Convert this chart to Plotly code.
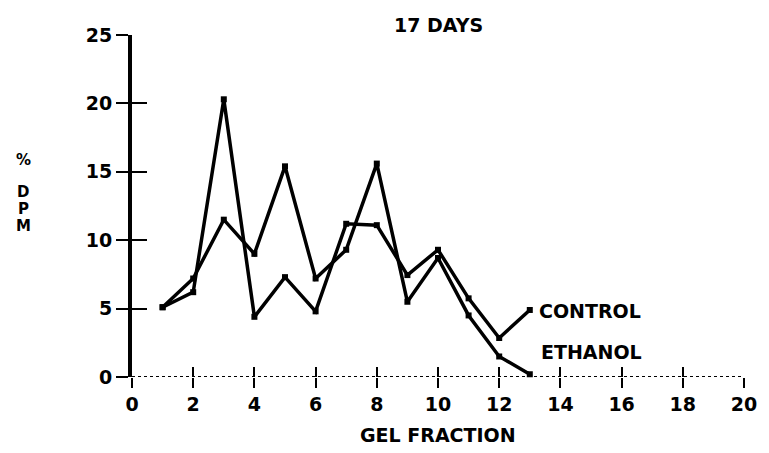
import plotly.graph_objects as go

# Gel fraction number and % DPM for each series (17 days)
fractions = [1, 2, 3, 4, 5, 6, 7, 8, 9, 10, 11, 12, 13]
control = [5.1, 6.2, 20.3, 4.4, 7.3, 4.8, 11.2, 11.1, 7.45, 9.3, 5.75, 2.85, 4.9]
ethanol = [5.1, 7.2, 11.5, 9.0, 15.4, 7.2, 9.3, 15.6, 5.5, 8.7, 4.5, 1.5, 0.2]

x_ticks = list(range(0, 21, 2))
y_ticks = [0, 5, 10, 15, 20, 25]

FONT = dict(family="DejaVu Sans", size=19, color="black", weight="bold")

fig = go.Figure()

for name, vals in (("CONTROL", control), ("ETHANOL", ethanol)):
    fig.add_trace(go.Scatter(
        x=fractions, y=vals, name=name, mode="lines+markers",
        line=dict(color="black", width=3.5),
        marker=dict(symbol="square", size=6, color="black"),
        cliponaxis=False, showlegend=False,
    ))

# invisible copy on the overlay axes so the inward tick marks get drawn
fig.add_trace(go.Scatter(
    x=fractions, y=control, xaxis="x2", yaxis="y2", mode="markers",
    marker=dict(size=1, opacity=0), hoverinfo="skip", showlegend=False,
))

# dotted baseline along y = 0
fig.add_shape(type="line", xref="x", yref="y", x0=0, x1=20, y0=0, y1=0,
              line=dict(color="black", width=2, dash="dot"))

axis_common = dict(showgrid=False, zeroline=False)

fig.update_layout(
    width=769, height=453,
    margin=dict(l=132, r=14, t=35, b=76),
    paper_bgcolor="white", plot_bgcolor="white",
    font=FONT,
    xaxis=dict(range=[0, 20], tickvals=x_ticks, ticktext=[str(v) for v in x_ticks],
               ticks="outside", ticklen=10, tickwidth=2, tickcolor="black",
               showline=False, tickfont=FONT, **axis_common),
    xaxis2=dict(range=[0, 20], overlaying="x", anchor="y", side="bottom",
                tickvals=x_ticks[1:], ticks="inside", ticklen=10, tickwidth=2,
                tickcolor="black", showticklabels=False, showline=False,
                **axis_common),
    yaxis=dict(range=[0, 25], tickvals=y_ticks, ticktext=[str(v) for v in y_ticks],
               ticks="outside", ticklen=12, tickwidth=2, tickcolor="black",
               showline=True, linewidth=4, linecolor="black", tickfont=FONT,
               **axis_common),
    yaxis2=dict(range=[0, 25], overlaying="y", anchor="x", side="left",
                tickvals=y_ticks, ticks="inside", ticklen=15, tickwidth=2,
                tickcolor="black", showticklabels=False, showline=False,
                **axis_common),
)

annotations = [
    dict(text="17 DAYS", xref="paper", yref="paper", x=0.5, y=1.03,
         xanchor="center", yanchor="middle", showarrow=False, font=FONT),
    dict(text="GEL FRACTION", xref="paper", yref="paper", x=0.5, y=-0.17,
         xanchor="center", yanchor="middle", showarrow=False, font=FONT),
    dict(text="CONTROL", xref="x", yref="y", x=13.22, y=4.85,
         xanchor="left", yanchor="middle", showarrow=False, font=FONT),
    dict(text="ETHANOL", xref="x", yref="y", x=13.3, y=1.8,
         xanchor="left", yanchor="middle", showarrow=False, font=FONT),
]
# stacked y-axis title
for ch, yp in (("%", 0.634), ("D", 0.541), ("P", 0.492), ("M", 0.442)):
    annotations.append(dict(text=ch, xref="paper", yref="paper", x=-0.178, y=yp,
                            xanchor="center", yanchor="middle", showarrow=False,
                            font=dict(family="DejaVu Sans", size=15, color="black",
                                      weight="bold")))
fig.update_layout(annotations=annotations)

fig.write_html("out.html")
